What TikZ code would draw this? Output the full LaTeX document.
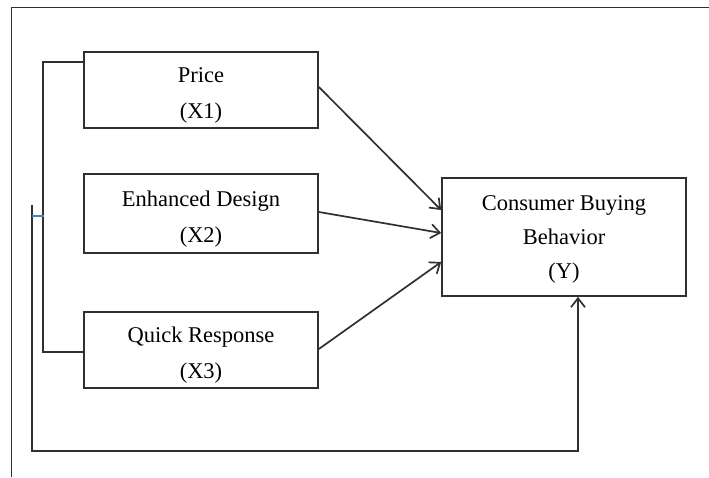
\documentclass[tikz,border=0pt]{standalone}
\usepackage{fontspec}
\setmainfont{Liberation Serif}
\usetikzlibrary{arrows.meta}
\definecolor{linegray}{HTML}{303030}
\definecolor{tickblue}{HTML}{4A7EBB}

\begin{document}
\begin{tikzpicture}[x=1pt,y=-1pt,
  varbox/.style={draw=linegray,line width=1.7pt,align=center,inner sep=0pt,
    font=\fontsize{22.5}{36}\selectfont,text height=62pt,text depth=5pt},
  thinline/.style={draw=linegray,line width=1.7pt},
  link/.style={thinline,-{Straight Barb[length=9pt,width=14pt,line width=1.7pt]}}]
\useasboundingbox (0,0) rectangle (709,477);
% page frame
\draw[thinline] (11.5,477) -- (11.5,7.5) -- (709,7.5);
% variables
\node[varbox,minimum width=234pt,minimum height=76pt] (price) at (201,90) {Price\\(X1)};
\node[varbox,minimum width=234pt,minimum height=79pt] (design) at (201,213.5) {Enhanced Design\\(X2)};
\node[varbox,minimum width=234pt,minimum height=76pt] (quick) at (201,350) {Quick Response\\(X3)};
\node[varbox,minimum width=244pt,minimum height=118pt,font=\fontsize{22.5}{34}\selectfont,
  text height=88pt] (cbb) at (564,237) {Consumer Buying\\Behavior\\(Y)};
% bracket on the left
\draw[thinline] ([yshift=28pt]price.west) -- ++(-40,0) |- ([yshift=-2pt]quick.west);
% joint effect back to Y
\coordinate (fbtop) at (32,205);
\coordinate (fbcorner) at (32,451);
\draw[link] (fbtop) -- (fbcorner) -| ([xshift=14pt]cbb.south);
\coordinate (tickl) at (32,216);
\coordinate (tickr) at (44,216);
\draw[tickblue,line width=1.2pt] (tickl) -- (tickr);
% partial effects
\draw[link] ([yshift=3pt]price.east) -- ([yshift=27pt]cbb.west);
\draw[link] ([yshift=1.5pt]design.east) -- ([yshift=4pt]cbb.west);
\draw[link] ([yshift=1pt]quick.east) -- ([yshift=-25pt]cbb.west);
\end{tikzpicture}
\end{document}
